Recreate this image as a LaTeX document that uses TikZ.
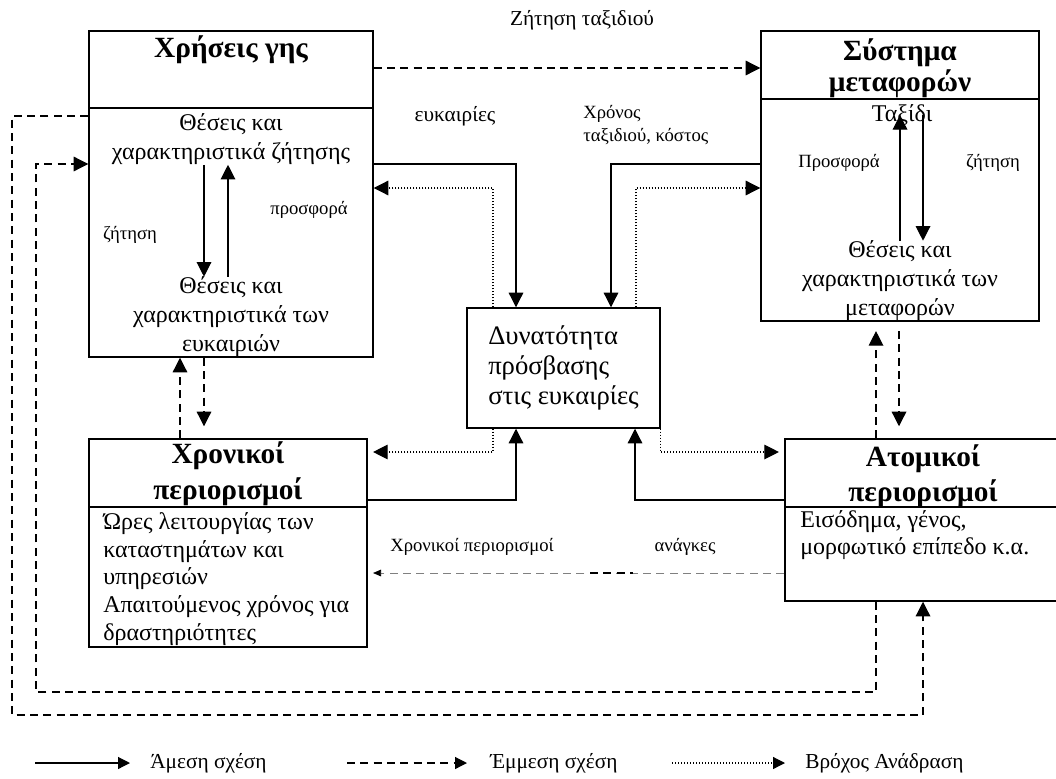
\documentclass[tikz,border=0pt]{standalone}
\usepackage{fontspec}
\setmainfont{Liberation Serif}
\usetikzlibrary{arrows.meta,fit}

\begin{document}
\begin{tikzpicture}[x=0.75pt,y=-0.75pt,
    box/.style={draw,line width=1.1pt,inner sep=0pt},
    ttl/.style={font=\fontsize{22}{24}\selectfont\bfseries,align=center,inner sep=0pt},
    body/.style={font=\fontsize{18}{21.75}\selectfont,align=center,inner sep=0pt},
    mid/.style={font=\fontsize{16}{17.5}\selectfont,inner sep=0pt},
    small/.style={font=\fontsize{14}{17}\selectfont,inner sep=0pt},
    solidarrow/.style={line width=0.9pt,-{Triangle[length=11pt,width=11pt]}},
    dasharrow/.style={line width=0.9pt,dash pattern=on 6pt off 4pt,-{Triangle[length=11pt,width=11pt]}},
    dotarrow/.style={line width=0.9pt,dash pattern=on 0.75pt off 1.5pt,-{Triangle[length=11pt,width=11pt]}}]

    \useasboundingbox (0,0) rectangle (1056,778);

    % Boxes
    \node[box,fit={(89,31) (373,357)}] (landuse) {};
    \node[box,fit={(761,31) (1039,321)}] (transport) {};
    \node[box,fit={(467,308) (660,428)}] (access) {};
    \node[box,fit={(89,439) (367,647)}] (timecons) {};
    \node[box,fit={(785,439) (1062,601)}] (indcons) {};
    \draw[line width=1.1pt] (landuse.west |- 0,108) -- (landuse.east |- 0,108);
    \draw[line width=1.1pt] (transport.west |- 0,99) -- (transport.east |- 0,99);
    \draw[line width=1.1pt] (timecons.west |- 0,507) -- (timecons.east |- 0,507);
    \draw[line width=1.1pt] (indcons.west |- 0,507) -- (indcons.east |- 0,507);

    % Land use
    \node[ttl] (landusettl) at (231,50) {Χρήσεις γης};
    \node[body] (demloc) at (231,139) {Θέσεις και\\χαρακτηριστικά ζήτησης};
    \node[body] (opploc) at (231,317) {Θέσεις και\\χαρακτηριστικά των\\ευκαιριών};
    \node[small] (demlbl) at (130,235) {ζήτηση};
    \node[small] (suplbl) at (309,210) {προσφορά};

    % Transport system
    \node[ttl,font=\fontsize{22}{23.5}\selectfont\bfseries] (transttl) at (900,68) {Σύστημα\\μεταφορών};
    \node[body] (trip) at (902,115) {Ταξίδι};
    \node[body] (trnloc) at (900,281) {Θέσεις και\\χαρακτηριστικά των\\μεταφορών};
    \node[small] (trsuplbl) at (839,163) {Προσφορά};
    \node[small] (trdemlbl) at (993,163) {ζήτηση};

    % Accessibility
    \node[font=\fontsize{20}{22.5}\selectfont,align=left,inner sep=0pt] (accesstxt) at (access.center) {Δυνατότητα\\πρόσβασης\\στις ευκαιρίες};

    % Constraints
    \node[ttl,font=\fontsize{22}{27}\selectfont\bfseries] (timettl) at (228,474) {Χρονικοί\\περιορισμοί};
    \node[body,align=left,anchor=west,font=\fontsize{18}{20.8}\selectfont] (timebody) at (103,579) {Ώρες λειτουργίας των\\καταστημάτων και\\υπηρεσιών\\Απαιτούμενος χρόνος για\\δραστηριότητες};
    \node[ttl,font=\fontsize{22}{26}\selectfont\bfseries] (indttl) at (923,476) {Ατομικοί\\περιορισμοί};
    \node[body,align=left,anchor=west,font=\fontsize{18}{20}\selectfont] (indbody) at (800,535) {Εισόδημα, γένος,\\μορφωτικό επίπεδο κ.α.};

    % Labels
    \node[mid] (tripdem) at (582,20) {Ζήτηση ταξιδιού};
    \node[mid] (opplbl) at (455,116) {ευκαιρίες};
    \node[small,align=left,anchor=west] (costlbl) at (583,125) {Χρόνος\\ταξιδιού, κόστος};
    \node[small] (timelbl) at (472,547) {Χρονικοί περιορισμοί};
    \node[small] (needlbl) at (685,547) {ανάγκες};

    % Direct links
    \draw[solidarrow] (landuse.east |- 0,164) -| (access.north -| 516,0);
    \draw[solidarrow] (transport.west |- 0,164) -| (access.north -| 611,0);
    \draw[solidarrow] (timecons.east |- 0,500) -| (access.south -| 516,0);
    \draw[solidarrow] (indcons.west |- 0,500) -| (access.south -| 635,0);
    \draw[solidarrow] (demloc.south -| 204,0) -- (opploc.north -| 204,0);
    \draw[solidarrow] (opploc.north -| 228,0) -- (demloc.south -| 228,0);
    \draw[solidarrow] (trnloc.north -| 900,0) -- (trip.center -| 900,0);
    \draw[solidarrow] (trip.center -| 923,0) -- (trnloc.north -| 923,0);

    % Indirect links
    \draw[dasharrow] (landuse.east |- 0,68) -- (transport.west |- 0,68);
    \draw[dasharrow] (timecons.north -| 180,0) -- (landuse.south -| 180,0);
    \draw[dasharrow,shorten >=9pt] (landuse.south -| 204,0) -- (timecons.north -| 204,0);
    \draw[dasharrow,shorten >=7pt] (indcons.north -| 876,0) -- (transport.south -| 876,0);
    \draw[dasharrow,shorten <=7pt,shorten >=9pt] (transport.south -| 899,0) -- (indcons.north -| 899,0);
    \draw[dasharrow] (landuse.west |- 0,116) -| (12,715) -| (indcons.south -| 923,0);
    \draw[dasharrow] (indcons.south -| 876,0) |- (36,692) |- (landuse.west |- 0,164);
    \draw[gray,line width=0.5pt,dash pattern=on 6pt off 4pt,shorten >=4pt,-{Triangle[length=6pt,width=5pt,black]}] (indcons.west |- 0,573) -- (timecons.east |- 0,573);
    \draw[line width=1pt,dash pattern=on 6pt off 4pt] (590,573) -- (633,573);

    % Feedback
    \draw[dotarrow] (access.north -| 493,0) |- (landuse.east |- 0,188);
    \draw[dotarrow] (access.north -| 636,0) |- (transport.west |- 0,188);
    \draw[dotarrow,shorten >=4pt] (access.south -| 493,0) |- (timecons.east |- 0,452);
    \draw[dotarrow,shorten >=4pt] (access.south east) |- (indcons.west |- 0,452);

    % Legend
    \draw[solidarrow,-{Triangle[length=9pt,width=9pt]}] (35,763) -- (130,763);
    \node[mid,anchor=west] (leg1) at (150,763) {Άμεση σχέση};
    \draw[dasharrow,-{Triangle[length=9pt,width=9pt]}] (347,763) -- (467,763);
    \node[mid,anchor=west] (leg2) at (490,763) {Έμμεση σχέση};
    \draw[dotarrow,-{Triangle[length=9pt,width=9pt]}] (672,763) -- (785,763);
    \node[mid,anchor=west] (leg3) at (805,763) {Βρόχος Ανάδραση};
\end{tikzpicture}
\end{document}
